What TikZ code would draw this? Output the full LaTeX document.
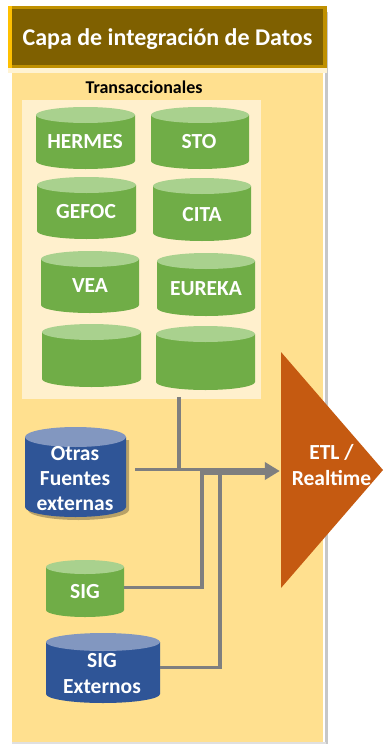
\documentclass[tikz,border=0pt]{standalone}
\usepackage{fontspec}
\setmainfont{Carlito}
\usetikzlibrary{arrows.meta}
\definecolor{panelc}{HTML}{FFE08F}
\definecolor{innerc}{HTML}{FFF0CD}
\definecolor{headc}{HTML}{7F6000}
\definecolor{headb}{HTML}{BF9000}
\definecolor{goldc}{HTML}{FFC000}
\definecolor{grn}{HTML}{70AD47}
\definecolor{grnt}{HTML}{A9D18E}
\definecolor{blu}{HTML}{2F5597}
\definecolor{blut}{HTML}{8297C0}
\definecolor{orgc}{HTML}{C55A11}
\definecolor{linec}{HTML}{7F7F7F}
\tikzset{
  cyltext/.style={text=white,font=\bfseries\fontsize{21.5}{26}\selectfont,align=center,inner sep=0pt},
  conn/.style={draw=linec,line width=3.8pt},
  connthick/.style={draw=linec,line width=7pt,-{Triangle[length=15pt,width=17pt]},shorten >=1pt},
  port/.style={inner sep=0pt,minimum size=0pt},
}
% name, x1, y1, x2, y2, ry, body, top
\newcommand{\dbcyl}[8]{%
  \fill[#7] (#2,#3+#6) -- (#4,#3+#6) -- (#4,#5-#6)
     arc[x radius={(#4-#2)/2},y radius=#6,start angle=0,end angle=180] -- cycle;
  \fill[#8] ({(#2+#4)/2},#3+#6) ellipse[x radius={(#4-#2)/2},y radius=#6];
  \node[port] (#1) at ({(#2+#4)/2},{(#3+#5)/2}) {};
}
\newcommand{\dbshadow}[5]{%
  \fill[black,opacity=.28] (#1,#2+#5) -- (#3,#2+#5) -- (#3,#4-#5)
     arc[x radius={(#3-#1)/2},y radius=#5,start angle=0,end angle=180] -- cycle;
}
\begin{document}
\begin{tikzpicture}[x=1pt,y=-1pt]
\useasboundingbox (0,0) rectangle (383,744);
\fill[white] (0,0) rectangle (383,744);
% shadow of the panel
\fill[black!22] (325,12) rectangle (328,744);
\fill[black!12] (12,742) rectangle (326,744);
% panel
\fill[panelc] (12,70) rectangle (323,742);
\fill[white!60!panelc] (8,68) rectangle (327,73);
% header
\fill[goldc] (8,6) rectangle (12,68);
\fill[headb] (12,6) rectangle (327,68);
\fill[headc] (12,9) rectangle (323,65);
\node[text=white,font=\bfseries\fontsize{24}{28}\selectfont,inner sep=0pt] (title) at (167.5,39) {Capa de integración de Datos};
\node[text=black,font=\bfseries\fontsize{18}{20}\selectfont,inner sep=0pt] (trans) at (144,87) {Transaccionales};
\node[fill=innerc,inner sep=0pt,minimum width=239pt,minimum height=299pt] (inner) at (141.5,249.5) {};
% cylinders
\dbcyl{hermes}{36}{107}{135}{169}{8}{grn}{grnt}
\node[cyltext] at (85,142) {HERMES};
\dbcyl{sto}{151}{107}{249}{169}{8}{grn}{grnt}
\node[cyltext] at (199,142) {STO};
\dbcyl{gefoc}{37}{177}{136}{239}{8}{grn}{grnt}
\node[cyltext] at (86,212) {GEFOC};
\dbcyl{cita}{153}{178}{251}{241}{8}{grn}{grnt}
\node[cyltext] at (202,215) {CITA};
\dbcyl{vea}{41}{251}{139}{313}{8}{grn}{grnt}
\node[cyltext] at (90,286) {VEA};
\dbcyl{eureka}{157}{253}{255}{316}{8}{grn}{grnt}
\node[cyltext] at (206,289) {EUREKA};
\dbcyl{blanka}{42}{324}{141}{387}{8}{grn}{grnt}
\dbcyl{blankb}{156}{326}{255}{390}{8}{grn}{grnt}
\dbshadow{28}{430}{129}{520}{10}
\dbcyl{otras}{25}{427}{126}{517}{10}{blu}{blut}
\node[cyltext,font=\bfseries\fontsize{21.5}{25}\selectfont] at (75,479) {Otras\\Fuentes\\externas};
\dbcyl{sig}{46}{560}{124}{617}{7}{grn}{grnt}
\node[cyltext] at (85,592) {SIG};
\dbcyl{sigext}{46}{633}{160}{703}{9}{blu}{blut}
\node[cyltext] at (102,673.5) {SIG\\Externos};
% ETL
\fill[orgc] (281,352) -- (383,470) -- (281,588) -- cycle;
\node[port] (etl) at (281,471) {};
\node[cyltext] (etltext) at (331.5,465.5) {ETL /\\Realtime};
% connectors
\coordinate (start) at (135,469.5);
\coordinate (j1) at (179,469.5);
\coordinate (j3) at (202,469.5);
\coordinate (j2) at (202,471);
\coordinate (a) at (179,397);
\coordinate (s) at (124,587.5);
\coordinate (s1) at (202,587.5);
\coordinate (s2) at (202,471);
\coordinate (e) at (160,667.5);
\coordinate (e1) at (220,667.5);
\coordinate (e2) at (220,471);
\draw[conn] (a) -- (j1);
\draw[conn] (start) -- (j3);
\draw[conn] (s) -- (s1) -- (s2);
\draw[conn] (e) -- (e1) -- (e2);
\draw[connthick] (j2) -- (etl);
\end{tikzpicture}
\end{document}
